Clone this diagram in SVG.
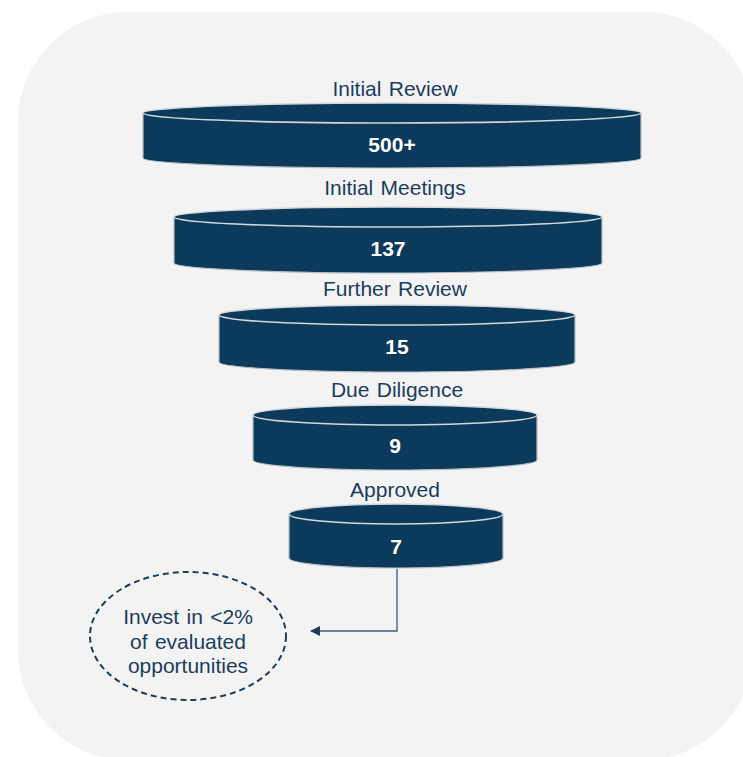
<svg xmlns="http://www.w3.org/2000/svg" width="743" height="757" viewBox="0 0 743 757">
<style>
.lbl{font-family:"Liberation Sans",Arial,sans-serif;font-size:21px;fill:#1b3d5e;text-anchor:middle;word-spacing:1.5px}
.num{font-family:"Liberation Sans",Arial,sans-serif;font-size:21px;font-weight:bold;fill:#ffffff;text-anchor:middle}
.body{fill:#0b3a5b;stroke:#b9bec4;stroke-width:1.2}
.top{fill:#0b3a5b;stroke:#d3d7db;stroke-width:1.6}
.conn{fill:none;stroke:#3d5b78;stroke-width:1.3}
.note{fill:none;stroke:#1b3d5e;stroke-width:2;stroke-dasharray:6 4}
</style>
<defs>
<marker id="arr" viewBox="0 0 10 10" refX="9" refY="5" markerWidth="10" markerHeight="10" markerUnits="userSpaceOnUse" orient="auto">
<path d="M0,0 L10,5 L0,10 Z" fill="#1b3d5e"/>
</marker>
</defs>
<rect x="0" y="0" width="743" height="757" fill="#ffffff"/>
<rect x="18" y="12" width="735" height="748" rx="110" ry="110" fill="#f3f3f3"/>

<g id="stage1">
<text class="lbl" x="395" y="96">Initial Review</text>
<path class="body" d="M143,113 L143,158 A249,10 0 0 0 641,158 L641,113 Z"/>
<ellipse class="top" cx="392" cy="113" rx="249" ry="10"/>
<text class="num" x="392" y="152">500+</text>
</g>

<g id="stage2">
<text class="lbl" x="395" y="195">Initial Meetings</text>
<path class="body" d="M174,217 L174,263 A214,10 0 0 0 602,263 L602,217 Z"/>
<ellipse class="top" cx="388" cy="217" rx="214" ry="10"/>
<text class="num" x="388" y="256">137</text>
</g>

<g id="stage3">
<text class="lbl" x="395" y="296">Further Review</text>
<path class="body" d="M219,315 L219,362 A178,10 0 0 0 575,362 L575,315 Z"/>
<ellipse class="top" cx="397" cy="315" rx="178" ry="10"/>
<text class="num" x="397" y="354">15</text>
</g>

<g id="stage4">
<text class="lbl" x="397" y="397">Due Diligence</text>
<path class="body" d="M253,415 L253,460 A142,10 0 0 0 537,460 L537,415 Z"/>
<ellipse class="top" cx="395" cy="415" rx="142" ry="10"/>
<text class="num" x="395" y="453">9</text>
</g>

<g id="stage5">
<text class="lbl" x="395" y="497">Approved</text>
<path class="body" d="M289,514 L289,558 A107,10 0 0 0 503,558 L503,514 Z"/>
<ellipse class="top" cx="396" cy="514" rx="107" ry="10"/>
<text class="num" x="396" y="554">7</text>
</g>

<g id="note">
<ellipse class="note" cx="188" cy="636" rx="98" ry="64"/>
<text class="lbl" x="188" y="624">Invest in &lt;2%</text>
<text class="lbl" x="188" y="649">of evaluated</text>
<text class="lbl" x="188" y="673">opportunities</text>
</g>

<g id="connectors">
<path class="conn" d="M397,569 L397,631 L311,631" marker-end="url(#arr)"/>
</g>
</svg>
